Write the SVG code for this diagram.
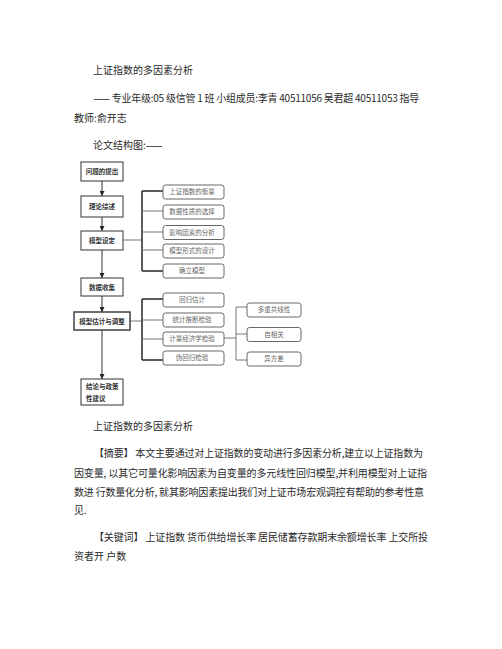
<svg xmlns="http://www.w3.org/2000/svg" width="502" height="649" viewBox="0 0 502 649">
<style>
.body{font-family:"Noto Sans CJK SC","Liberation Sans",sans-serif;font-size:10px;fill:#2a2a2a}
.lbox{fill:#fff;stroke:#333;stroke-width:1}
.rbox{fill:#fff;stroke:#666;stroke-width:1}
.lt{font-family:"Noto Sans CJK SC",sans-serif;font-size:6.5px;font-weight:bold;fill:#333}
.rt{font-family:"Noto Sans CJK SC",sans-serif;font-size:6.5px;fill:#666;text-anchor:middle}
.c{text-anchor:middle}
.main{stroke:#333;stroke-width:1;fill:none}
.trunk{stroke:#333;stroke-width:1.6;fill:none}
.stub{stroke:#777;stroke-width:1;fill:none}
</style>
<defs>
<marker id="arr" markerUnits="userSpaceOnUse" markerWidth="5" markerHeight="5" refX="5" refY="2.5" orient="auto">
<path d="M0,0 L5,2.5 L0,5 z" fill="#222"/>
</marker>
</defs>
<rect width="502" height="649" fill="#fff"/>

<text class="body" x="93" y="74">上证指数的多因素分析</text>
<text class="body" x="93" y="102" textLength="326" lengthAdjust="spacing">—— 专业年级:05 级信管 1 班 小组成员:李青 40511056 吴君超 40511053 指导</text>
<text class="body" x="74" y="122">教师:俞开志</text>
<text class="body" x="93" y="149">论文结构图:——</text>

<g id="connectors">
<line class="main" x1="102" y1="181" x2="102" y2="196" marker-end="url(#arr)"/>
<line class="main" x1="102" y1="217" x2="102" y2="231" marker-end="url(#arr)"/>
<line class="main" x1="102" y1="250" x2="102" y2="278" marker-end="url(#arr)"/>
<line class="main" x1="102" y1="296" x2="102" y2="312" marker-end="url(#arr)"/>
<line class="main" x1="102" y1="330" x2="102" y2="379" marker-end="url(#arr)"/>
<line class="stub" x1="123" y1="240" x2="142" y2="240"/>
<line class="trunk" x1="142" y1="191" x2="142" y2="271"/>
<line class="trunk" x1="142" y1="191" x2="163" y2="191"/>
<line class="stub" x1="142" y1="211" x2="163" y2="211"/>
<line class="stub" x1="142" y1="232" x2="163" y2="232"/>
<line class="stub" x1="142" y1="250" x2="163" y2="250"/>
<line class="trunk" x1="142" y1="271" x2="163" y2="271"/>
<line class="stub" x1="130" y1="321" x2="142" y2="321"/>
<line class="trunk" x1="142" y1="299" x2="142" y2="360"/>
<line class="trunk" x1="142" y1="299" x2="163" y2="299"/>
<line class="stub" x1="142" y1="320" x2="163" y2="320"/>
<line class="stub" x1="142" y1="339" x2="163" y2="339"/>
<line class="trunk" x1="142" y1="360" x2="163" y2="360"/>
<line class="stub" x1="224" y1="338" x2="236" y2="338"/>
<line class="stub" x1="236" y1="307" x2="236" y2="360"/>
<line class="stub" x1="236" y1="307" x2="247" y2="307"/>
<line class="stub" x1="236" y1="334" x2="247" y2="334"/>
<line class="stub" x1="236" y1="360" x2="247" y2="360"/>
</g>

<g id="n1"><rect class="lbox" x="81" y="162" width="42" height="19"/><text class="lt c" x="102" y="174">问题的提出</text></g>
<g id="n2"><rect class="lbox" x="81" y="196" width="42" height="21"/><text class="lt c" x="102" y="209">理论综述</text></g>
<g id="n3"><rect class="lbox" x="81" y="231" width="42" height="19"/><text class="lt c" x="102" y="243">模型设定</text></g>
<g id="n4"><rect class="lbox" x="81" y="278" width="42" height="18"/><text class="lt c" x="102" y="289.5">数据收集</text></g>
<g id="n5"><rect class="lbox" x="74" y="312" width="56" height="18" style="stroke-width:1.4"/><text class="lt c" x="102" y="323.5">模型估计与调整</text></g>
<g id="n6"><rect class="lbox" x="81" y="379" width="42" height="26"/><text class="lt" x="86" y="388.5">结论与政策</text><text class="lt" x="86" y="400.5">性建议</text></g>

<g id="a1"><rect class="rbox" x="163" y="185" width="61" height="14" rx="2.5"/><text class="rt" x="192" y="194.3">上证指数的衡量</text></g>
<g id="a2"><rect class="rbox" x="163" y="205" width="61" height="14" rx="2.5"/><text class="rt" x="192" y="214.3">数据性质的选择</text></g>
<g id="a3"><rect class="rbox" x="163" y="225.5" width="61" height="14" rx="2.5"/><text class="rt" x="192" y="234.8">影响因素的分析</text></g>
<g id="a4"><rect class="rbox" x="163" y="244" width="61" height="14" rx="2.5"/><text class="rt" x="192" y="253.3">模型形式的设计</text></g>
<g id="a5"><rect class="rbox" x="163" y="264" width="61" height="14" rx="2.5"/><text class="rt" x="192" y="273.3">确立模型</text></g>

<g id="b1"><rect class="rbox" x="163" y="293" width="61" height="14" rx="2.5"/><text class="rt" x="192" y="302.3">回归估计</text></g>
<g id="b2"><rect class="rbox" x="163" y="313" width="61" height="14" rx="2.5"/><text class="rt" x="192" y="322.3">统计推断检验</text></g>
<g id="b3"><rect class="rbox" x="163" y="332" width="61" height="14" rx="2.5"/><text class="rt" x="192" y="341.3">计量经济学检验</text></g>
<g id="b4"><rect class="rbox" x="163" y="351" width="61" height="14" rx="2.5"/><text class="rt" x="192" y="360.3">伪回归检验</text></g>

<g id="c1"><rect class="rbox" x="247" y="303" width="54" height="14" rx="2.5"/><text class="rt" x="274" y="312.3">多重共线性</text></g>
<g id="c2"><rect class="rbox" x="247" y="327.5" width="54" height="14" rx="2.5"/><text class="rt" x="274" y="336.8">自相关</text></g>
<g id="c3"><rect class="rbox" x="247" y="352" width="54" height="14" rx="2.5"/><text class="rt" x="274" y="361.3">异方差</text></g>

<text class="body" x="93" y="430">上证指数的多因素分析</text>
<text class="body" x="94" y="457" textLength="329" lengthAdjust="spacing">【摘要】 本文主要通过对上证指数的变动进行多因素分析,建立以上证指数为</text>
<text class="body" x="74" y="477" textLength="353" lengthAdjust="spacing">因变量, 以其它可量化影响因素为自变量的多元线性回归模型,并利用模型对上证指</text>
<text class="body" x="74" y="496" textLength="350" lengthAdjust="spacing">数进 行数量化分析, 就其影响因素提出我们对上证市场宏观调控有帮助的参考性意</text>
<text class="body" x="74" y="514">见.</text>
<text class="body" x="94" y="541" textLength="334" lengthAdjust="spacing">【关键词】 上证指数 货币供给增长率 居民储蓄存款期末余额增长率 上交所投</text>
<text class="body" x="74" y="560">资者开 户数</text>
</svg>
